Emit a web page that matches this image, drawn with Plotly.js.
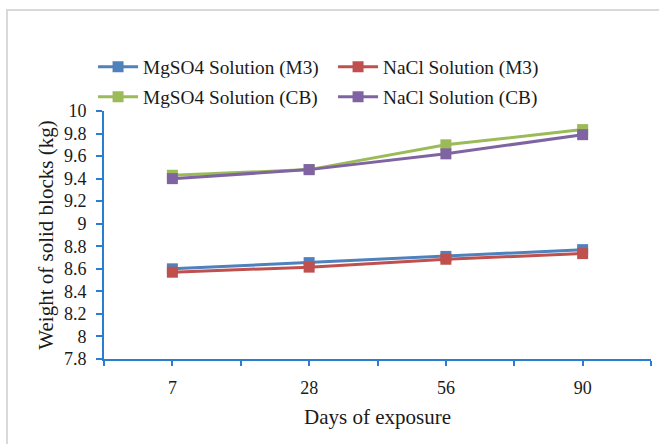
<!DOCTYPE html>
<html>
<head>
<meta charset="utf-8">
<script src="https://cdn.plot.ly/plotly-3.0.1.min.js"></script>
<style>
  html, body { margin: 0; padding: 0; background: #fff; }
  #wrap { position: relative; width: 659px; height: 444px; overflow: hidden; }
  #chart { position: absolute; left: 0; top: 0; width: 659px; height: 444px; }
  #frame { position: absolute; left: 6px; top: 9px; width: 700px; height: 500px;
           border: 2px solid #d9d9d9; pointer-events: none; }
</style>
</head>
<body>
<div id="wrap">
  <div id="chart"></div>
  <div id="frame"></div>
</div>
<script>
// Data
const days = ['7', '28', '56', '90'];
const mgso4M3 = [8.60, 8.655, 8.71, 8.77];
const naclM3  = [8.57, 8.615, 8.685, 8.735];
const mgso4CB = [9.43, 9.48, 9.70, 9.835];
const naclCB  = [9.40, 9.48, 9.62, 9.79];
const seriesNames = ['MgSO4 Solution (M3)', 'NaCl Solution (M3)', 'MgSO4 Solution (CB)', 'NaCl Solution (CB)'];
const yTickValues = [7.8, 8, 8.2, 8.4, 8.6, 8.8, 9, 9.2, 9.4, 9.6, 9.8, 10];

const colors = ['#4f81bd', '#c0504d', '#9bbb59', '#8064a2'];
const axisBlue = '#2a7dd1';
const FONT = '"Liberation Serif", "Times New Roman", serif';
const TXT = '#1a1a1a';

const xIdx = days.map((d, i) => i);
// ticks at category centres and at boundaries between categories
const xTickVals = [], xTickText = [];
for (let i = -0.5; i <= days.length - 0.5 + 1e-9; i += 0.5) {
  xTickVals.push(i);
  const k = Math.round(i);
  xTickText.push(Math.abs(i - k) < 1e-9 && k >= 0 && k < days.length ? days[k] : '');
}

const allY = [mgso4M3, naclM3, mgso4CB, naclCB];
const traces = allY.map((ys, i) => ({
  x: xIdx,
  y: ys,
  name: seriesNames[i],
  type: 'scatter',
  mode: 'lines+markers',
  line: { color: colors[i], width: 3 },
  marker: { color: colors[i], symbol: 'square', size: 11 },
  legend: i < 2 ? 'legend' : 'legend2',
  cliponaxis: false
}));

const legendCommon = {
  orientation: 'h', xanchor: 'left', yanchor: 'middle',
  entrywidth: 185, entrywidthmode: 'pixels', itemwidth: 40,
  font: { family: FONT, size: 19.3, color: TXT },
  bgcolor: 'rgba(0,0,0,0)', traceorder: 'normal'
};

const layout = {
  width: 659, height: 444,
  margin: { l: 104, r: 8, t: 111, b: 85 },
  paper_bgcolor: '#fff',
  plot_bgcolor: '#fff',
  font: { family: FONT, size: 19, color: TXT },
  showlegend: true,
  legend: Object.assign({}, legendCommon, { x: -0.02, y: 1.177 }),
  legend2: Object.assign({}, legendCommon, { x: -0.02, y: 1.056 }),
  xaxis: {
    range: [-0.5, days.length - 0.5],
    tickmode: 'array', tickvals: xTickVals, ticktext: xTickText,
    showline: true, linecolor: axisBlue, linewidth: 2,
    ticks: 'outside', ticklen: 5, tickwidth: 2, tickcolor: axisBlue,
    ticklabelstandoff: 6,
    showgrid: false, zeroline: false,
    tickfont: { family: FONT, size: 18, color: TXT },
    title: { text: 'Days of exposure', font: { family: FONT, size: 21, color: TXT }, standoff: 13 }
  },
  yaxis: {
    range: [7.8, 10],
    tickmode: 'array', tickvals: yTickValues,
    showline: true, linecolor: axisBlue, linewidth: 2,
    ticks: 'outside', ticklen: 6, tickwidth: 2, tickcolor: axisBlue,
    ticklabelstandoff: 6,
    showgrid: false, zeroline: false,
    tickfont: { family: FONT, size: 18, color: TXT },
    title: { text: 'Weight of solid blocks (kg)', font: { family: FONT, size: 21, color: TXT }, standoff: 5 }
  }
};

Plotly.newPlot('chart', traces, layout, { displayModeBar: false, staticPlot: true });
</script>
</body>
</html>
